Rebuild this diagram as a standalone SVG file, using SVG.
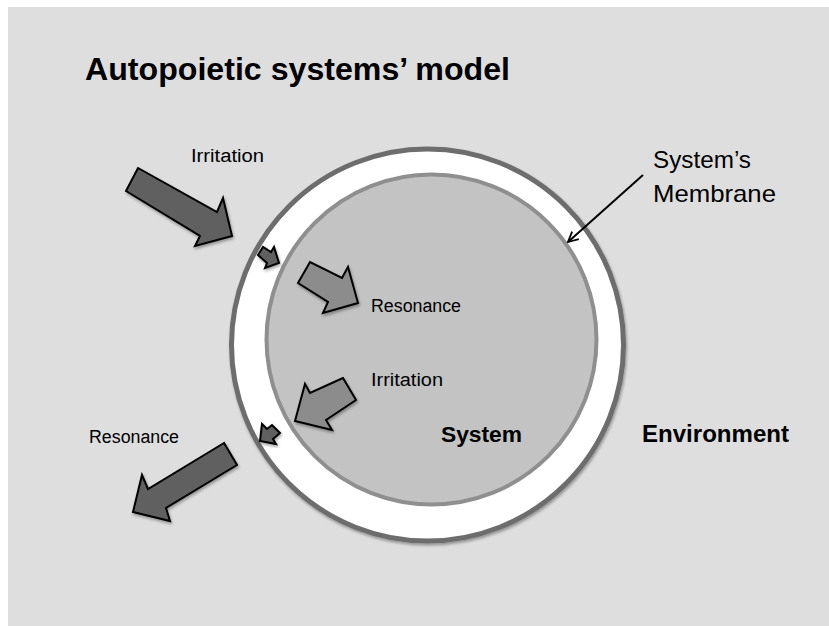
<svg xmlns="http://www.w3.org/2000/svg" width="829" height="626" viewBox="0 0 829 626">
<style>
.t{font-family:"Liberation Sans",Arial,sans-serif;fill:#000}
.lbl{font-size:18px}
.bold{font-weight:bold}
.dark{fill:#616161;stroke:#000;stroke-width:2;stroke-linejoin:miter}
.mid{fill:#8c8c8c;stroke:#000;stroke-width:2;stroke-linejoin:miter}
</style>
<defs>
<filter id="sh" x="-20%" y="-20%" width="140%" height="140%">
<feGaussianBlur in="SourceAlpha" stdDeviation="1.5"/>
<feOffset dx="1" dy="2" result="b"/>
<feComponentTransfer><feFuncA type="linear" slope="0.35"/></feComponentTransfer>
<feMerge><feMergeNode/><feMergeNode in="SourceGraphic"/></feMerge>
</filter>
<marker id="ah" viewBox="0 0 12 12" refX="11" refY="6" markerWidth="12" markerHeight="12" markerUnits="userSpaceOnUse" orient="auto">
<path d="M1,1 L11,6 L1,11" fill="none" stroke="#000" stroke-width="1.8"/>
</marker>
</defs>
<rect x="8" y="7" width="821" height="619" fill="#dedede"/>
<text class="t bold" x="85" y="80" font-size="32" textLength="425" lengthAdjust="spacingAndGlyphs">Autopoietic systems’ model</text>

<g id="environment">
<circle cx="427.5" cy="345" r="196" fill="#ffffff" stroke="#6d6d6d" stroke-width="5" filter="url(#sh)"/>
<text class="t bold" x="642" y="442" font-size="23" textLength="147" lengthAdjust="spacingAndGlyphs">Environment</text>
</g>
<g id="system">
<circle cx="431.5" cy="339.5" r="165" fill="#c3c3c3" stroke="#8f8f8f" stroke-width="4"/>
<text class="t bold" x="441" y="442" font-size="22" textLength="81" lengthAdjust="spacingAndGlyphs">System</text>
</g>

<g id="membrane-label">
<text class="t" x="653" y="168" font-size="24" textLength="98" lengthAdjust="spacingAndGlyphs">System’s</text>
<text class="t" x="653" y="202" font-size="24" textLength="123" lengthAdjust="spacingAndGlyphs">Membrane</text>
</g>

<g id="connectors">
<line x1="643" y1="175" x2="568" y2="242" stroke="#000" stroke-width="2" marker-end="url(#ah)"/>
<polygon id="irritation-in" class="dark" filter="url(#sh)" points="126,191 138,168 217,212 223,198 232,236 195,246 200,236"/>
<polygon id="irritation-small" class="dark" filter="url(#sh)" points="258,255 263,247 271,252 274,247 279,263 265,268 267,263"/>
<polygon id="resonance-in" class="mid" filter="url(#sh)" points="298,283 310,262 342,278 348,267 358,303 323,313 328,302"/>
<polygon id="irritation-out" class="mid" filter="url(#sh)" points="343,378 310,393 305,384 295,421 332,430 326,420 356,400"/>
<polygon id="resonance-small" class="dark" filter="url(#sh)" points="272,425 267,429 262,424 260,441 276,444 273,439 280,433"/>
<polygon id="resonance-out" class="dark" filter="url(#sh)" points="224,443 148,489 142,475 133,512 170,521 166,508 237,465"/>
</g>

<g id="labels">
<text class="t lbl" x="191" y="162" textLength="73" lengthAdjust="spacingAndGlyphs">Irritation</text>
<text class="t lbl" x="371" y="312" textLength="90" lengthAdjust="spacingAndGlyphs">Resonance</text>
<text class="t lbl" x="371" y="386" textLength="72" lengthAdjust="spacingAndGlyphs">Irritation</text>
<text class="t lbl" x="89" y="443" textLength="90" lengthAdjust="spacingAndGlyphs">Resonance</text>
</g>
</svg>
